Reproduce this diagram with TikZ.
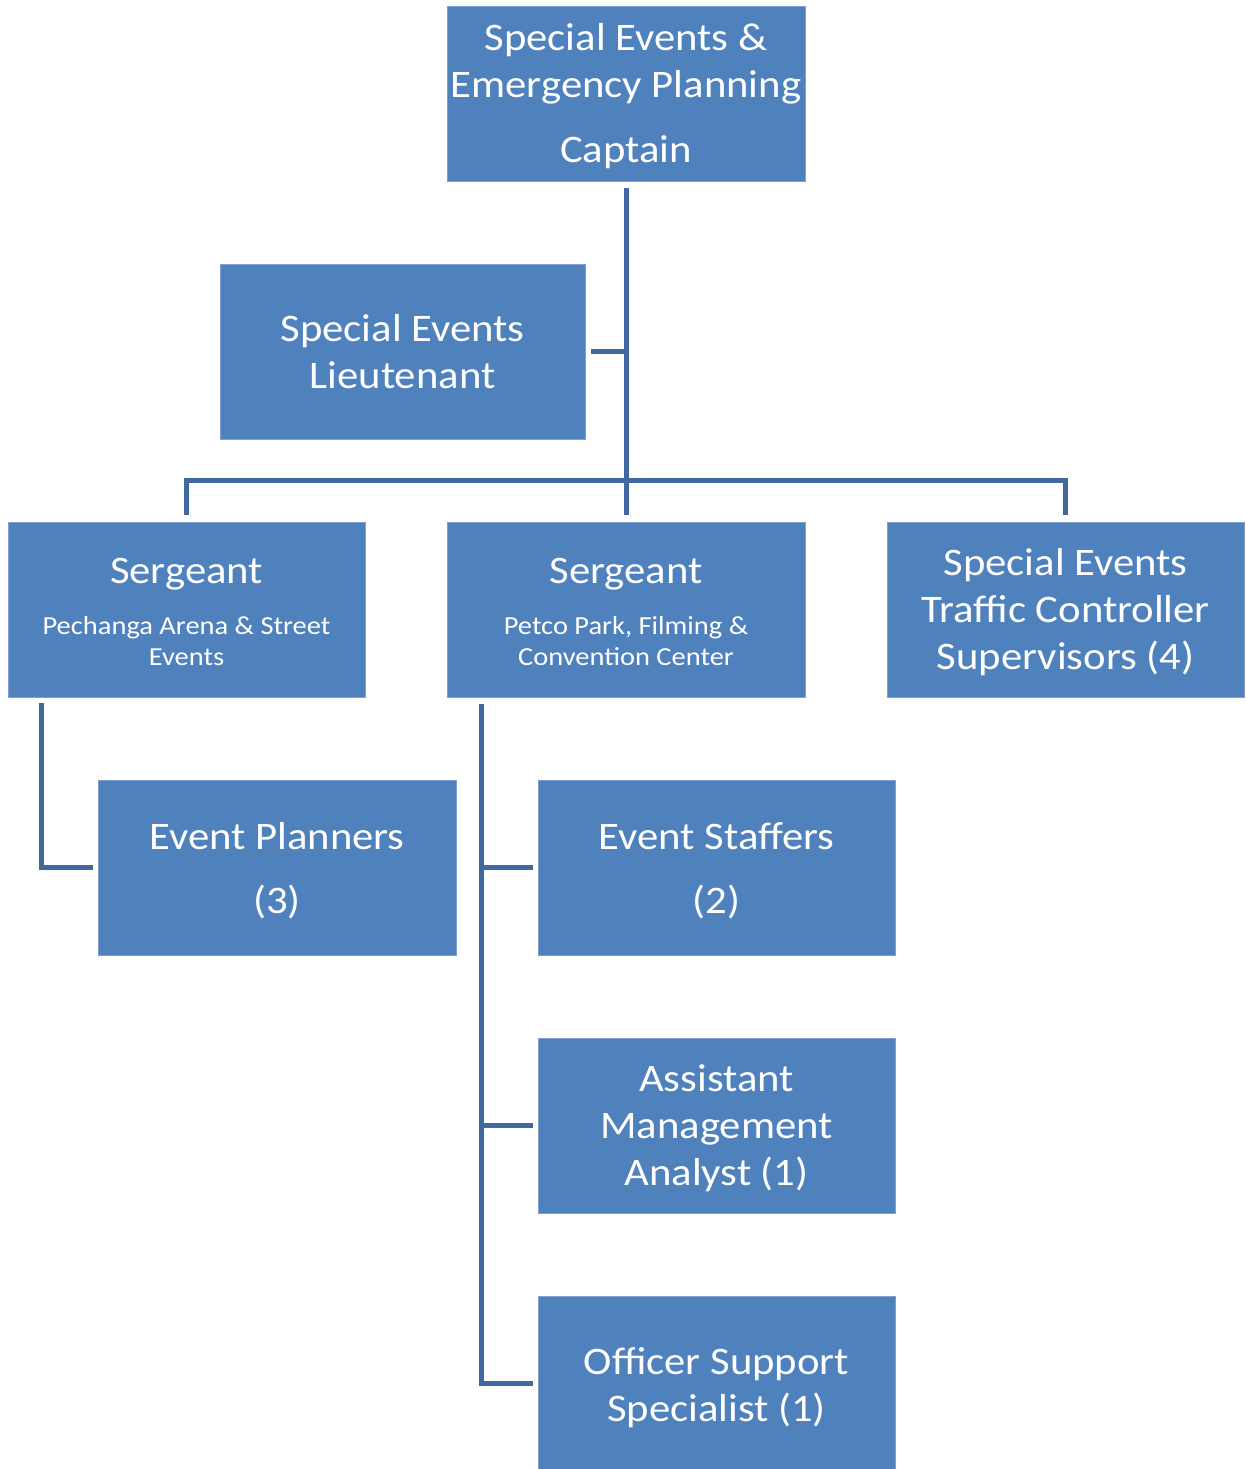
\documentclass[tikz,border=0pt]{standalone}
\usepackage{fontspec}
\setmainfont[FakeStretch=1.095]{Carlito}
\definecolor{boxfill}{HTML}{4F81BD}
\definecolor{boxedge}{HTML}{7E9FCF}
\definecolor{linecol}{HTML}{40699F}
\tikzset{
  orgbox/.style={rectangle, fill=boxfill, draw=boxedge, line width=0.8pt,
    minimum width=357pt, minimum height=175pt, inner sep=0pt},
  boxtext/.style={align=center, text=white, inner sep=0pt, yshift=-3pt,
    font=\fontsize{39}{47}\selectfont},
  conn/.style={draw=linecol, line width=5pt},
}
\newcommand{\smalltxt}{\fontsize{26}{31}\selectfont}
\begin{document}
\begin{tikzpicture}[x=1pt,y=-1pt]
\clip (0,0) rectangle (1246,1469);
\fill[white] (0,0) rectangle (1246,1469);

\node[orgbox, minimum width=358pt,
  label={[boxtext]center:{Special Events \&\\Emergency Planning\\[18pt]Captain}}]
  (cap) at (626,93.5) {};
\node[orgbox, minimum width=365pt,
  label={[boxtext, yshift=3pt]center:{Special Events\\Lieutenant}}]
  (lt) at (402.5,351.5) {};
\node[orgbox,
  label={[boxtext, yshift=0.5pt]center:{Sergeant\\[4pt]{\smalltxt Pechanga Arena \& Street}\\[-16pt]{\smalltxt Events}}}]
  (s1) at (186.5,609.5) {};
\node[orgbox, minimum width=358pt,
  label={[boxtext, yshift=0.5pt]center:{Sergeant\\[4pt]{\smalltxt Petco Park, Filming \&}\\[-16pt]{\smalltxt Convention Center}}}]
  (s2) at (626,609.5) {};
\node[orgbox,
  label={[boxtext]center:{Special Events\\Traffic Controller\\Supervisors (4)}}]
  (tc) at (1065.5,609.5) {};
\node[orgbox, minimum width=358pt,
  label={[boxtext]center:{Event Planners\\[17pt](3)}}]
  (ep) at (277,867.5) {};
\node[orgbox,
  label={[boxtext]center:{Event Staffers\\[17pt](2)}}]
  (es) at (716.5,867.5) {};
\node[orgbox,
  label={[boxtext]center:{Assistant\\Management\\Analyst (1)}}]
  (am) at (716.5,1125.5) {};
\node[orgbox,
  label={[boxtext, yshift=-1pt]center:{Officer Support\\Specialist (1)}}]
  (os) at (716.5,1383.5) {};

% connectors
\draw[conn, shorten <=7pt, shorten >=7pt] (cap.south) -- (s2.north);
\draw[conn, shorten <=6pt] (lt.east) -- (lt.east -| cap.south);
\draw[conn, shorten <=7pt, shorten >=7pt] (s1.north) |- ([yshift=41pt]s2.north) -| (tc.north);

\coordinate (lv) at ([xshift=33.5pt]s1.south west);
\draw[conn, shorten <=6pt, shorten >=5pt] (lv) |- (ep.west);

\coordinate (mv) at ([xshift=34.5pt]s2.south west);
\draw[conn, shorten <=7pt, shorten >=5pt] (mv) |- (os.west);
\draw[conn, shorten >=5pt] (es.west -| mv) -- (es.west);
\draw[conn, shorten >=5pt] (am.west -| mv) -- (am.west);
\end{tikzpicture}
\end{document}
